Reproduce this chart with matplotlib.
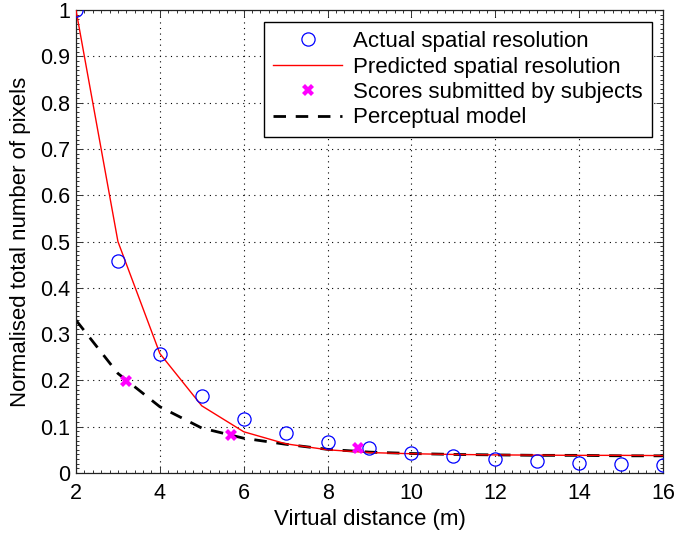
import matplotlib
matplotlib.use("Agg")
import matplotlib.pyplot as plt
from matplotlib.ticker import FuncFormatter, MultipleLocator

plt.rcParams['font.family'] = ['Liberation Sans', 'DejaVu Sans']

x_actual = [2, 3, 4, 5, 6, 7, 8, 9, 10, 11, 12, 13, 14, 15, 16]
y_actual = [1.0, 0.457, 0.258, 0.167, 0.116, 0.086, 0.066, 0.053, 0.043,
            0.036, 0.030, 0.026, 0.022, 0.020, 0.017]

x_pred = [2, 3, 4, 5, 6, 7, 8, 9, 10, 11, 12, 13, 14, 15, 16]
y_pred = [1.0, 0.50, 0.258, 0.145, 0.089, 0.063, 0.050, 0.044, 0.0415,
          0.040, 0.039, 0.0385, 0.038, 0.038, 0.0375]

x_scores = [3.2, 5.7, 8.72]
y_scores = [0.199, 0.082, 0.054]

x_model = [2, 3, 4, 5, 6, 7, 8, 9, 10, 11, 12, 13, 14, 15, 16]
y_model = [0.33, 0.215, 0.143, 0.097, 0.075, 0.062, 0.051, 0.045, 0.042,
           0.040, 0.039, 0.038, 0.038, 0.037, 0.037]

fig = plt.figure(figsize=(6.75, 5.35), dpi=100)
ax = fig.add_axes([0.1126, 0.116, 0.8696, 0.865])

ax.plot(x_actual, y_actual, linestyle='none', marker='o', markersize=9.5,
        markerfacecolor='none', markeredgecolor='#0000ff', markeredgewidth=0.9,
        label='Actual spatial resolution', zorder=4)
ax.plot(x_pred, y_pred, color='#ff0000', linewidth=1.0,
        label='Predicted spatial resolution', zorder=3)
ax.plot(x_scores, y_scores, linestyle='none', marker='X', markersize=8.5,
        color='#ff00ff', markeredgewidth=0,
        label='Scores submitted by subjects', zorder=5)
ax.plot(x_model, y_model, color='black', linewidth=2.0, linestyle=(0, (4.5, 3.5)),
        label='Perceptual model', zorder=2)

ax.set_xlim(2, 16)
ax.set_ylim(0, 1)
ax.set_xticks([2, 4, 6, 8, 10, 12, 14, 16])
ax.set_yticks([i / 10 for i in range(11)])
ax.yaxis.set_major_formatter(FuncFormatter(lambda v, p: ('%g' % round(v, 2))))
ax.xaxis.set_minor_locator(MultipleLocator(0.2))
ax.yaxis.set_minor_locator(MultipleLocator(0.01))

ax.grid(True, which='major', linestyle=(0, (1, 4)), color='black', linewidth=0.8)
ax.tick_params(which='both', direction='in', top=True, right=True, labelsize=15.5,
               width=0.7, color='#333333')
ax.tick_params(which='major', length=5, pad=4)
ax.tick_params(axis='x', which='major', pad=7)
ax.tick_params(which='minor', length=2.5)
for s in ax.spines.values():
    s.set_linewidth(0.9)
    s.set_color('#222222')

ax.set_xlabel('Virtual distance (m)', fontsize=16, labelpad=4)
ax.set_ylabel('Normalised total number of pixels', fontsize=16, labelpad=7)

leg = ax.legend(loc='upper right', bbox_to_anchor=(0.981, 0.974), borderaxespad=0,
                fontsize=16, fancybox=False, framealpha=1, edgecolor='black',
                handlelength=3.1, handletextpad=0.5, labelspacing=0.2,
                borderpad=0.4)
leg.get_frame().set_linewidth(1.0)

fig.savefig('out.png', dpi=100)
